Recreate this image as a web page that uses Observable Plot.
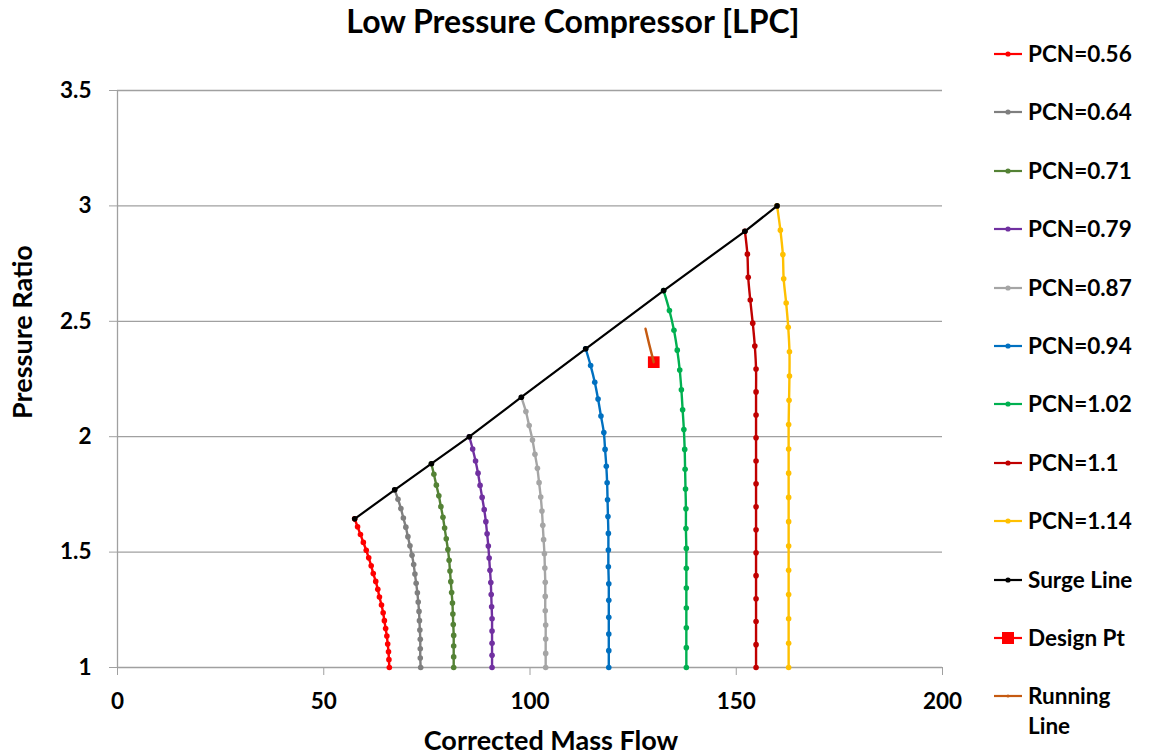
<!DOCTYPE html>
<html>
<head>
<meta charset="utf-8">
<script src="https://cdn.jsdelivr.net/npm/d3@7"></script>
<script src="https://cdn.jsdelivr.net/npm/@observablehq/plot@0.6"></script>
<style>
  html, body { margin: 0; padding: 0; background: #fff; }
  #wrap { position: relative; width: 1149px; height: 755px; overflow: hidden; font-family: Lato, "Open Sans", sans-serif; font-weight: bold; color: #000; }
  .t { position: absolute; white-space: nowrap; line-height: 1; }
  #legend { position: absolute; left: 993px; top: 0; }
  .li { position: absolute; left: 0; display: flex; align-items: center; font-size: 22.5px; line-height: 30px; white-space: nowrap; }
  .li svg { margin-right: 5px; }
</style>
</head>
<body>
<div id="wrap"></div>
<script>
// ---- data ----
const seriesNames = ["PCN=0.56","PCN=0.64","PCN=0.71","PCN=0.79","PCN=0.87","PCN=0.94","PCN=1.02","PCN=1.1","PCN=1.14"];
const flow056 = [57.5, 58.2, 58.9, 59.6, 60.3, 60.9, 61.5, 62.0, 62.6, 63.1, 63.5, 64.0, 64.4, 64.7, 65.0, 65.3, 65.5, 65.7, 65.8, 65.9];
const pr056   = [1.644, 1.610, 1.576, 1.542, 1.508, 1.475, 1.441, 1.407, 1.373, 1.339, 1.305, 1.271, 1.237, 1.203, 1.169, 1.136, 1.102, 1.068, 1.034, 1.000];
const flow064 = [67.2, 68.0, 68.7, 69.3, 69.9, 70.4, 70.9, 71.4, 71.8, 72.1, 72.4, 72.7, 72.9, 73.1, 73.2, 73.3, 73.4, 73.4, 73.4, 73.5];
const pr064   = [1.770, 1.729, 1.689, 1.648, 1.608, 1.567, 1.527, 1.486, 1.446, 1.405, 1.365, 1.324, 1.284, 1.243, 1.203, 1.162, 1.122, 1.081, 1.041, 1.000];
const flow071 = [76.1, 76.7, 77.3, 77.9, 78.4, 78.9, 79.3, 79.7, 80.1, 80.4, 80.6, 80.8, 81.0, 81.2, 81.3, 81.4, 81.5, 81.5, 81.5, 81.5];
const pr071   = [1.883, 1.837, 1.790, 1.744, 1.697, 1.651, 1.604, 1.558, 1.511, 1.465, 1.418, 1.372, 1.325, 1.279, 1.232, 1.186, 1.139, 1.093, 1.046, 1.000];
const flow079 = [85.3, 86.1, 86.8, 87.4, 87.9, 88.4, 88.9, 89.3, 89.6, 89.9, 90.1, 90.3, 90.5, 90.6, 90.7, 90.8, 90.8, 90.8, 90.8, 90.8];
const pr079   = [2.000, 1.947, 1.895, 1.842, 1.789, 1.737, 1.684, 1.632, 1.579, 1.526, 1.474, 1.421, 1.368, 1.316, 1.263, 1.211, 1.158, 1.105, 1.053, 1.000];
const flow087 = [97.9, 99.0, 99.8, 100.6, 101.2, 101.8, 102.2, 102.6, 102.9, 103.1, 103.3, 103.5, 103.6, 103.7, 103.7, 103.7, 103.8, 103.8, 103.8, 103.8];
const pr087   = [2.171, 2.109, 2.048, 1.986, 1.924, 1.863, 1.801, 1.739, 1.678, 1.616, 1.554, 1.493, 1.431, 1.369, 1.308, 1.246, 1.184, 1.123, 1.061, 1.000];
const flow094 = [113.5, 114.7, 115.7, 116.5, 117.2, 117.9, 118.2, 118.5, 118.7, 118.8, 118.9, 119.0, 119.0, 119.0, 119.1, 119.1, 119.1, 119.1, 119.1, 119.1];
const pr094   = [2.381, 2.308, 2.236, 2.163, 2.090, 2.018, 1.945, 1.872, 1.800, 1.727, 1.654, 1.581, 1.509, 1.436, 1.363, 1.291, 1.218, 1.145, 1.073, 1.000];
const flow102 = [132.4, 133.8, 134.9, 135.7, 136.3, 136.7, 137.0, 137.3, 137.5, 137.6, 137.7, 137.8, 137.8, 137.9, 137.9, 137.9, 137.9, 137.9, 137.9, 137.9];
const pr102   = [2.633, 2.547, 2.461, 2.375, 2.289, 2.203, 2.117, 2.031, 1.945, 1.859, 1.773, 1.688, 1.602, 1.516, 1.430, 1.344, 1.258, 1.172, 1.086, 1.000];
const flow110 = [152.1, 152.7, 152.9, 153.4, 154.0, 154.5, 154.8, 154.8, 154.8, 154.8, 154.8, 154.8, 154.8, 154.8, 154.8, 154.8, 154.8, 154.8, 154.8, 154.8];
const pr110   = [2.890, 2.791, 2.691, 2.592, 2.492, 2.393, 2.293, 2.194, 2.094, 1.995, 1.895, 1.796, 1.696, 1.597, 1.497, 1.398, 1.298, 1.199, 1.099, 1.000];
const flow114 = [159.9, 160.7, 161.3, 161.5, 162.1, 162.6, 162.9, 162.9, 162.8, 162.7, 162.7, 162.7, 162.7, 162.7, 162.7, 162.7, 162.7, 162.7, 162.7, 162.7];
const pr114   = [3.000, 2.895, 2.789, 2.684, 2.579, 2.474, 2.368, 2.263, 2.158, 2.053, 1.947, 1.842, 1.737, 1.632, 1.526, 1.421, 1.316, 1.211, 1.105, 1.000];
const surgeFlow = [57.5, 67.2, 76.1, 85.3, 97.9, 113.5, 132.4, 152.1, 159.9];
const surgePR   = [1.644, 1.770, 1.883, 2.000, 2.171, 2.381, 2.633, 2.890, 3.000];
const runFlow = [128.0, 128.9, 130.0];
const runPR   = [2.468, 2.400, 2.323];
const designFlow = [130.0];
const designPR   = [2.323];
const xTicks = [0, 50, 100, 150, 200];
const yTicks = [1, 1.5, 2, 2.5, 3, 3.5];

// ---- styles ----
const colors = ["#FF0000", "#7F7F7F", "#548235", "#7030A0", "#A5A5A5", "#0070C0", "#00B050", "#C00000", "#FFC000"];
const surgeColor = "#000000", designColor = "#FF0000", runColor = "#C55A11";
const gridColor = "#A0A0A0";

const flows = [flow056, flow064, flow071, flow079, flow087, flow094, flow102, flow110, flow114];
const prs = [pr056, pr064, pr071, pr079, pr087, pr094, pr102, pr110, pr114];
const toRows = (xs, ys) => xs.map((x, i) => ({x, y: ys[i]}));

const marks = [
  Plot.ruleY(yTicks, {x1: 0, x2: 200, stroke: gridColor, strokeWidth: 1.3}),
  Plot.ruleX([0], {y1: 1, y2: 3.5, stroke: gridColor, strokeWidth: 1.3}),
  Plot.axisY(yTicks, {tickSize: 8, tickPadding: 18, stroke: gridColor, tickFormat: d => String(d), label: null, fontSize: 22.5, fontWeight: "bold", fill: "#000"}),
  Plot.axisX(xTicks, {tickSize: 8, tickPadding: 18, stroke: gridColor, tickFormat: d => String(d), label: null, fontSize: 22.5, fontWeight: "bold", fill: "#000"})
];
flows.forEach((fl, i) => {
  const rows = toRows(fl, prs[i]);
  marks.push(Plot.line(rows, {x: "x", y: "y", stroke: colors[i], strokeWidth: 2.4, curve: "catmull-rom"}));
  marks.push(Plot.dot(rows, {x: "x", y: "y", fill: colors[i], r: 2.8}));
});
const surgeRows = toRows(surgeFlow, surgePR);
marks.push(Plot.line(surgeRows, {x: "x", y: "y", stroke: surgeColor, strokeWidth: 2.2}));
marks.push(Plot.dot(surgeRows, {x: "x", y: "y", fill: surgeColor, r: 2.8}));
marks.push(Plot.dot(toRows(designFlow, designPR), {x: "x", y: "y", symbol: "square", fill: designColor, r: 6.6}));
marks.push(Plot.line(toRows(runFlow, runPR), {x: "x", y: "y", stroke: runColor, strokeWidth: 2.4}));

const chart = Plot.plot({
  width: 1149, height: 755,
  marginLeft: 117, marginRight: 207, marginTop: 90, marginBottom: 88,
  x: {domain: [0, 200]},
  y: {domain: [1, 3.5]},
  style: {fontFamily: "Lato, 'Open Sans', sans-serif", fontWeight: "bold", fontSize: "22px", color: "#000", background: "#fff"},
  marks
});
const wrap = document.getElementById("wrap");
wrap.appendChild(chart);

function addText(txt, css) {
  const d = document.createElement("div");
  d.className = "t";
  d.textContent = txt;
  Object.assign(d.style, css);
  wrap.appendChild(d);
  return d;
}
addText("Low Pressure Compressor [LPC]", {left: "573px", top: "5px", fontSize: "32px", transform: "translateX(-50%)"});
addText("Corrected Mass Flow", {left: "551px", top: "726px", fontSize: "27px", transform: "translateX(-50%)"});
addText("Pressure Ratio", {left: "21px", top: "332px", fontSize: "27px", transform: "translate(-50%,-50%) rotate(-90deg)"});

// legend
const legend = document.createElement("div");
legend.id = "legend";
wrap.appendChild(legend);
const legendItems = seriesNames.map((n, i) => ({name: n, color: colors[i], kind: "dot"}))
  .concat([{name: "Surge Line", color: surgeColor, kind: "dot"},
           {name: "Design Pt", color: designColor, kind: "square"},
           {name: "Running Line", color: runColor, kind: "line"}]);
legendItems.forEach((it, i) => {
  const row = document.createElement("div");
  row.className = "li";
  const cy = 54 + i * 58.4;
  row.style.top = (cy - 15) + "px";
  let mark = "";
  if (it.kind === "dot") mark = `<circle cx="15" cy="8" r="2.6" fill="${it.color}"/>`;
  if (it.kind === "square") mark = `<rect x="9" y="2" width="12" height="12" fill="${it.color}"/>`;
  if (it.kind === "line") mark = `<circle cx="15" cy="8" r="1.5" fill="${it.color}"/>`;
  row.innerHTML = `<svg width="30" height="16"><line x1="1" x2="29" y1="8" y2="8" stroke="${it.color}" stroke-width="2.2"/>${mark}</svg><span></span>`;
  if (it.name === "Running Line") {
    row.querySelector("span").innerHTML = "Running<br>Line";
    row.style.alignItems = "flex-start";
    row.querySelector("svg").style.marginTop = "7px";
  } else {
    row.querySelector("span").textContent = it.name;
  }
  legend.appendChild(row);
});
</script>
</body>
</html>
